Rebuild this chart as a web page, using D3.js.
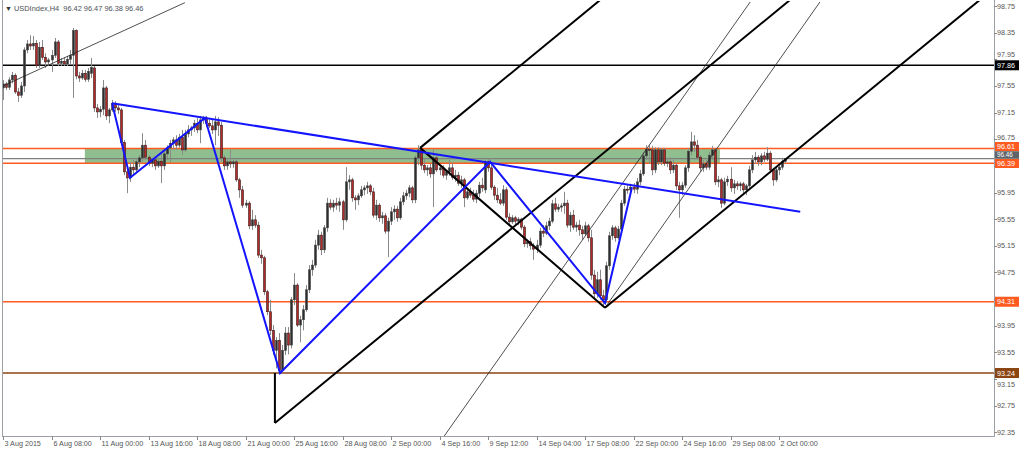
<!DOCTYPE html>
<html><head><meta charset="utf-8">
<script src="https://cdn.jsdelivr.net/npm/d3@7"></script>
<style>
body{margin:0;background:#fff}
svg{display:block}
text{font-family:"Liberation Sans",Arial,sans-serif}
</style>
</head><body>
<svg id="c" width="1024" height="450"></svg>
<script>
// ---- DATA ----
const title = "USDIndex,H4  96.42 96.47 96.38 96.46";
// H4 candles: [open, high, low, close]
const candles = [
[97.52,97.64,97.34,97.58],[97.58,97.61,97.49,97.53],[97.53,97.68,97.49,97.64],[97.64,97.76,97.59,97.71],
[97.71,97.74,97.43,97.46],[97.46,97.52,97.31,97.41],[97.41,97.61,97.37,97.55],[97.55,98.13,97.46,98.09],
[98.09,98.24,98.04,98.18],[98.18,98.31,98.09,98.15],[98.15,98.30,98.09,98.19],[98.19,98.24,97.82,97.86],
[97.86,98.21,97.82,98.13],[98.13,98.24,97.94,97.98],[97.98,98.04,97.82,97.91],[97.91,97.97,97.85,97.94],
[97.94,98.09,97.76,98.01],[98.01,98.27,97.97,98.21],[98.21,98.24,97.85,97.89],[97.89,97.97,97.85,97.92],
[97.92,97.98,97.85,97.88],[97.88,98.00,97.85,97.95],[97.95,98.09,97.88,98.01],[98.01,98.42,97.37,98.38],
[98.38,98.40,97.65,97.70],[97.70,97.76,97.61,97.67],[97.67,97.79,97.64,97.74],[97.74,97.79,97.61,97.65],
[97.65,97.82,97.61,97.77],[97.74,97.97,97.67,97.83],[97.82,97.85,97.16,97.22],[97.22,97.28,97.07,97.16],
[97.16,97.25,97.08,97.20],[97.20,97.64,97.11,97.52],[97.52,97.55,97.04,97.10],[97.10,97.22,96.99,97.19],
[97.19,97.34,97.16,97.29],[97.29,97.32,97.16,97.22],[97.22,97.28,97.13,97.19],[97.19,97.22,96.66,96.70],
[96.70,96.74,96.21,96.26],[96.26,96.36,95.94,96.17],[96.17,96.41,96.11,96.33],[96.33,96.44,96.21,96.29],
[96.29,96.47,96.24,96.41],[96.41,96.51,96.33,96.47],[96.47,96.84,96.41,96.66],[96.66,96.74,96.44,96.48],
[96.48,96.51,96.35,96.39],[96.39,96.47,96.33,96.44],[96.44,96.48,96.29,96.35],[96.35,96.47,96.32,96.42],
[96.42,96.56,96.09,96.35],[96.35,96.59,96.29,96.53],[96.53,96.66,96.44,96.62],[96.62,96.74,96.41,96.69],
[96.69,96.78,96.59,96.74],[96.74,96.81,96.59,96.66],[96.66,96.83,96.62,96.78],[96.78,96.89,96.51,96.59],
[96.59,96.89,96.56,96.83],[96.83,96.96,96.78,96.89],[96.89,96.95,96.80,96.92],[96.92,97.04,96.86,96.99],
[96.99,97.07,96.84,96.89],[96.89,97.10,96.69,97.04],[97.04,97.10,96.98,97.07],[97.07,97.10,96.93,96.99],
[96.99,97.05,96.92,96.95],[96.95,97.04,96.83,96.89],[96.89,97.10,96.66,97.01],[97.01,97.08,96.80,96.96],
[96.96,97.01,96.41,96.47],[96.47,96.51,96.29,96.35],[96.35,96.47,96.29,96.41],[96.41,96.59,96.32,96.38],
[96.38,96.44,96.32,96.41],[96.41,96.44,96.11,96.14],[96.14,96.17,95.87,95.99],[95.99,96.05,95.72,95.76],
[95.76,95.84,95.72,95.79],[95.79,95.82,95.40,95.45],[95.45,95.69,95.39,95.54],[95.54,95.61,95.42,95.46],
[95.46,95.51,94.97,95.01],[95.01,95.09,94.88,94.97],[94.97,95.00,94.41,94.46],[94.46,94.49,94.11,94.16],
[94.16,94.34,93.81,93.88],[93.88,93.96,93.51,93.58],[93.58,93.78,93.31,93.73],[93.73,93.84,93.22,93.28],
[93.28,93.66,93.24,93.58],[93.58,93.93,93.51,93.84],[93.84,93.93,93.52,93.66],[93.66,94.38,93.61,94.34],
[94.34,94.74,94.26,94.56],[94.56,94.59,93.93,93.96],[93.96,94.10,93.70,94.04],[94.04,94.26,93.88,94.19],
[94.19,94.56,94.16,94.49],[94.49,94.86,94.44,94.79],[94.79,94.94,94.70,94.86],[94.86,95.24,94.82,95.16],
[95.16,95.39,95.09,95.31],[95.31,95.36,95.01,95.09],[95.09,95.46,95.04,95.42],[95.42,95.87,95.36,95.79],
[95.79,95.85,95.69,95.73],[95.73,95.84,95.66,95.79],[95.79,95.87,95.69,95.76],[95.76,95.87,95.66,95.81],
[95.81,95.84,95.39,95.54],[95.54,96.33,95.51,96.11],[96.11,96.21,95.99,96.14],[96.14,96.17,95.81,95.87],
[95.87,95.91,95.69,95.84],[95.84,95.94,95.76,95.90],[95.90,96.05,95.87,95.99],[95.99,96.06,95.91,96.02],
[96.02,96.11,95.93,96.05],[96.05,96.08,95.91,95.96],[95.96,96.02,95.57,95.61],[95.61,95.84,95.54,95.76],
[95.76,95.79,95.51,95.57],[95.57,95.66,95.48,95.60],[95.60,95.64,95.33,95.37],[95.37,95.57,94.98,95.52],
[95.52,95.73,95.46,95.66],[95.66,95.76,95.54,95.70],[95.70,95.75,95.51,95.57],[95.57,95.87,95.54,95.81],
[95.81,95.96,95.76,95.90],[95.90,95.99,95.84,95.94],[95.94,96.06,95.88,96.02],[96.02,96.05,95.79,95.84],
[95.84,96.51,95.79,96.47],[96.47,96.66,96.36,96.59],[96.59,96.62,96.29,96.36],[96.36,96.47,96.24,96.29],
[96.29,96.36,96.20,96.32],[96.32,96.38,96.17,96.23],[96.23,96.59,95.73,96.47],[96.47,96.51,96.26,96.29],
[96.29,96.36,96.21,96.32],[96.32,96.36,96.17,96.21],[96.21,96.29,96.14,96.26],[96.26,96.44,96.20,96.32],
[96.32,96.39,96.14,96.18],[96.18,96.29,96.11,96.21],[96.21,96.26,96.05,96.09],[96.09,96.20,96.02,96.14],
[96.14,96.17,95.73,95.87],[95.87,96.02,95.84,95.96],[95.96,96.02,95.87,95.91],[95.91,95.99,95.81,95.85],
[95.85,95.99,95.79,95.94],[95.94,96.11,95.88,96.06],[96.06,96.17,95.96,96.02],[95.99,96.44,95.94,96.41],
[96.41,96.47,96.26,96.32],[96.32,96.39,95.99,96.03],[96.03,96.06,95.84,95.91],[95.91,96.02,95.79,95.84],
[95.84,95.94,95.76,95.79],[95.79,96.06,95.75,95.99],[95.99,96.03,95.54,95.58],[95.58,95.64,95.46,95.51],
[95.51,95.61,95.48,95.57],[95.57,95.60,95.45,95.52],[95.52,95.58,95.46,95.55],[95.55,95.57,95.39,95.43],
[95.43,95.46,95.13,95.18],[95.18,95.24,95.12,95.21],[95.21,95.27,95.09,95.15],[95.15,95.19,94.94,95.10],
[95.10,95.24,95.04,95.16],[95.16,95.42,95.12,95.37],[95.37,95.46,95.28,95.34],[95.34,95.51,95.31,95.45],
[95.45,95.57,95.39,95.52],[95.52,95.84,95.49,95.78],[95.78,95.87,95.66,95.70],[95.70,95.78,95.66,95.73],
[95.73,95.79,95.66,95.75],[95.75,95.96,95.63,95.79],[95.79,95.84,95.42,95.46],[95.46,95.66,95.36,95.61],
[95.61,95.69,95.39,95.43],[95.43,95.51,95.36,95.46],[95.46,95.54,95.30,95.39],[95.39,95.45,95.24,95.33],
[95.33,95.51,95.30,95.45],[95.45,95.48,95.21,95.27],[95.27,95.39,94.64,94.71],[94.71,94.79,94.37,94.43],
[94.43,94.76,94.37,94.64],[94.64,94.79,94.34,94.40],[94.40,94.49,94.25,94.34],[94.34,94.91,94.29,94.85],
[94.85,95.36,94.79,95.30],[95.30,95.46,95.24,95.42],[95.42,95.45,95.21,95.27],[95.27,95.45,95.24,95.40],
[95.40,95.84,95.36,95.79],[95.79,96.05,95.75,96.00],[96.00,96.06,95.93,95.99],[95.99,96.08,95.91,96.03],
[96.03,96.09,95.94,96.00],[96.00,96.17,95.93,96.11],[96.11,96.29,96.06,96.23],[96.23,96.56,96.20,96.50],
[96.50,96.66,96.44,96.60],[96.60,96.66,96.38,96.59],[96.59,96.65,96.21,96.29],[96.29,96.63,96.24,96.59],
[96.59,96.63,96.36,96.41],[96.41,96.62,96.36,96.59],[96.59,96.62,96.35,96.39],[96.39,96.47,96.33,96.41],
[96.41,96.48,96.23,96.29],[96.29,96.44,96.24,96.36],[96.36,96.39,95.99,96.05],[96.05,96.11,95.57,95.99],
[95.99,96.11,95.91,96.06],[96.06,96.36,96.02,96.32],[96.32,96.62,96.26,96.57],[96.57,96.86,96.51,96.71],
[96.71,96.81,96.56,96.66],[96.66,96.74,96.44,96.48],[96.48,96.51,96.26,96.32],[96.32,96.44,96.26,96.38],
[96.38,96.44,96.29,96.33],[96.33,96.56,96.29,96.51],[96.51,96.65,96.44,96.59],[96.59,96.62,96.06,96.11],
[96.11,96.20,96.03,96.14],[96.14,96.17,95.72,95.79],[95.79,96.17,95.76,96.11],[96.11,96.20,96.05,96.15],
[96.15,96.33,95.96,96.02],[96.02,96.14,95.93,96.08],[96.08,96.12,95.99,96.05],[96.05,96.11,95.97,96.08],
[96.08,96.11,95.94,95.99],[95.99,96.08,95.91,96.05],[96.05,96.35,96.02,96.29],[96.29,96.51,96.24,96.44],
[96.44,96.56,96.38,96.48],[96.48,96.51,96.35,96.41],[96.41,96.54,96.36,96.50],[96.50,96.56,96.41,96.45],
[96.45,96.63,96.42,96.54],[96.54,96.57,96.24,96.29],[96.29,96.32,96.05,96.14],[96.14,96.33,96.11,96.29],
[96.29,96.36,96.21,96.33],[96.33,96.47,96.29,96.42],[96.42,96.47,96.38,96.46]
];
const timeLabels = ["3 Aug 2015","6 Aug 08:00","11 Aug 00:00","13 Aug 16:00","18 Aug 08:00","21 Aug 00:00",
  "25 Aug 16:00","28 Aug 08:00","2 Sep 00:00","4 Sep 16:00","9 Sep 12:00","14 Sep 04:00","17 Sep 08:00",
  "22 Sep 00:00","24 Sep 16:00","29 Sep 08:00","2 Oct 00:00"];
const timeLabelBars = [0,16,32,48,64,80,96,112,128,144,160,176,192,208,224,240,256];
const priceTicks = [92.35,92.75,93.15,93.55,93.95,94.35,94.75,95.15,95.55,95.95,96.35,96.75,97.15,97.55,97.95,98.35,98.75];
const levelPrices = [97.86, 96.61, 96.39, 94.31, 93.24];
const bidPrice = 96.46;
const zone = {fromBar: 27, toBar: 236.5, top: 96.61, bottom: 96.39};
// zigzag (bar index, price)
const zigzag = [[36.0,97.29],[41.9,96.17],[66.6,97.07],[91.4,93.24],[160.7,96.41],[198.6,94.29],[207.5,96.03]];
const blueTrend = [[36.0,97.29],[263,95.66]];
// Andrews pitchfork pivots
const forkA = [89.7,92.49], forkB = [137.6,96.62], forkC = [198.6,94.22];
// thin trendlines
const thinLines = [
  [[0,97.55],[60.0,98.80]],
  [[145.5,92.29],[246.5,98.81]],
  [[198.6,94.22],[269.5,98.81]]
];

// ---- CHART ----
const svg = d3.select("#c");
const L = 3, R = 994, T = 1, B = 436;
const x = d3.scaleLinear().domain([0,256]).range([3,779]);
const y = d3.scaleLinear().domain([92.35,98.75]).range([432.3,6]);

svg.append("defs").append("clipPath").attr("id","plot")
  .append("rect").attr("x",L).attr("y",T).attr("width",R-L).attr("height",B-T);
const plot = svg.append("g").attr("clip-path","url(#plot)");

// zone
plot.append("rect")
  .attr("x", x(zone.fromBar)).attr("width", x(zone.toBar)-x(zone.fromBar))
  .attr("y", y(zone.top)).attr("height", y(zone.bottom)-y(zone.top))
  .attr("fill","#8fbf8f");

// bid line
plot.append("line").attr("x1",L).attr("x2",R).attr("y1",y(bidPrice)).attr("y2",y(bidPrice))
  .attr("stroke","#7f7f7f").attr("stroke-width",1.2);

const levelColors = ["#000000","#ff5a1f","#ff5a1f","#ff5a1f","#8b4513"];
plot.selectAll("line.lvl").data(levelPrices).enter().append("line").attr("class","lvl")
  .attr("x1",L).attr("x2",R).attr("y1",d=>y(d)).attr("y2",d=>y(d))
  .attr("stroke",(d,i)=>levelColors[i]).attr("stroke-width",1.6);

// candles
const cg = plot.append("g");
candles.forEach((c,i)=>{
  const [o,h,l,cl] = c;
  const cx = Math.round(x(i))+0.5;
  const up = cl >= o;
  cg.append("line").attr("x1",cx).attr("x2",cx).attr("y1",y(h)).attr("y2",y(l))
    .attr("stroke", "#8a8a8a").attr("stroke-width",1);
  const top = y(Math.max(o,cl)), bot = y(Math.min(o,cl));
  cg.append("rect").attr("x",cx-1).attr("width",2)
    .attr("y",top).attr("height",Math.max(1,bot-top))
    .attr("fill", up ? "#2e2e2e" : "#b22a2a")
    .attr("stroke", up ? "#444" : "#3a1a1a").attr("stroke-width",0.6);
});

const line = d3.line().x(d=>x(d[0])).y(d=>y(d[1]));

// thin lines
thinLines.forEach(p=>{
  plot.append("path").attr("d",line(p)).attr("fill","none").attr("stroke","#222").attr("stroke-width",0.8);
});

// pitchfork
const M = [(forkB[0]+forkC[0])/2,(forkB[1]+forkC[1])/2];
const d = [M[0]-forkA[0], M[1]-forkA[1]];
const ext = (p)=>[p,[p[0]+d[0]*4,p[1]+d[1]*4]];
[ext(forkA), ext(forkB), ext(forkC), [forkB,forkC], [forkA,[forkA[0],93.24]]].forEach(p=>{
  plot.append("path").attr("d",line(p)).attr("fill","none").attr("stroke","#000").attr("stroke-width",2);
});

// blue lines
plot.append("path").attr("d",line(blueTrend)).attr("fill","none").attr("stroke","#1414ff").attr("stroke-width",2);
plot.append("path").attr("d",line(zigzag)).attr("fill","none").attr("stroke","#1414ff").attr("stroke-width",2);

// frame
svg.append("line").attr("x1",L-0.5).attr("x2",L-0.5).attr("y1",0).attr("y2",B).attr("stroke","#9aa0a6");
svg.append("line").attr("x1",R+0.5).attr("x2",R+0.5).attr("y1",0).attr("y2",B+0.5).attr("stroke","#9aa0a6");
svg.append("line").attr("x1",L-1).attr("x2",R+1).attr("y1",B+0.5).attr("y2",B+0.5).attr("stroke","#9aa0a6");

// price label boxes
const boxes = [[levelPrices[0],"#000"],[levelPrices[1],"#ff5a1f"],[bidPrice,"#5f6468"],[levelPrices[2],"#ff5a1f"],[levelPrices[3],"#ff5a1f"],[levelPrices[4],"#8b4513"]];
const boxPrices = boxes.map(b=>b[0]);

// y axis ticks (labels fully covered by a price box are hidden, as in the platform)
const yAx = svg.append("g");
priceTicks.forEach(p=>{
  yAx.append("line").attr("x1",R).attr("x2",R+3).attr("y1",Math.round(y(p))+0.5).attr("y2",Math.round(y(p))+0.5).attr("stroke","#888");
  const dy = boxPrices.map(bp=>y(p)-y(bp));
  const covered = dy.some(v=>Math.abs(v)<4.5);
  if(covered) return;
  let shift = 0;
  dy.forEach(v=>{ if(v<0 && v>-11) shift = Math.min(shift, -(11+v)+0); if(v>0 && v<11) shift = Math.max(shift, 11-v); });
  yAx.append("text").attr("x",997).attr("y",y(p)+2.5+shift).attr("font-size",7.2).attr("fill","#555").text(p.toFixed(2));
});

// box layout: the three stacked boxes near 96.4-96.6 are compacted so all stay readable
const boxGeom = {};
boxGeom[levelPrices[1]] = {y0:142, h:9, fs:7.2};
boxGeom[bidPrice] = {y0:151.2, h:7.6, fs:6.3};
boxGeom[levelPrices[2]] = {y0:159, h:9, fs:7.2};
boxes.forEach(([p,col])=>{
  const g = svg.append("g");
  const gm = boxGeom[p] || {y0:y(p)-5, h:10, fs:7.2};
  g.append("rect").attr("x",995).attr("y",gm.y0).attr("width",24).attr("height",gm.h).attr("fill",col);
  g.append("text").attr("x",997).attr("y",gm.y0+gm.h/2+gm.fs*0.35).attr("font-size",gm.fs).attr("fill","#fff").text(p.toFixed(2));
});

// x axis
const xAx = svg.append("g");
timeLabelBars.forEach((b,i)=>{
  const xx = Math.round(x(b))+0.5;
  xAx.append("line").attr("x1",xx).attr("x2",xx).attr("y1",B).attr("y2",B+4).attr("stroke","#888");
  xAx.append("text").attr("x",xx+1).attr("y",446).attr("font-size",7.2).attr("fill","#555").text(timeLabels[i]);
});

// title
svg.append("text").attr("x",5).attr("y",10.5).attr("font-size",7).attr("fill","#333").text("\u25BC");
svg.append("text").attr("x",14).attr("y",10.5).attr("font-size",7.4).attr("fill","#4a4f57").attr("xml:space","preserve").text(title);
</script>
</body></html>
